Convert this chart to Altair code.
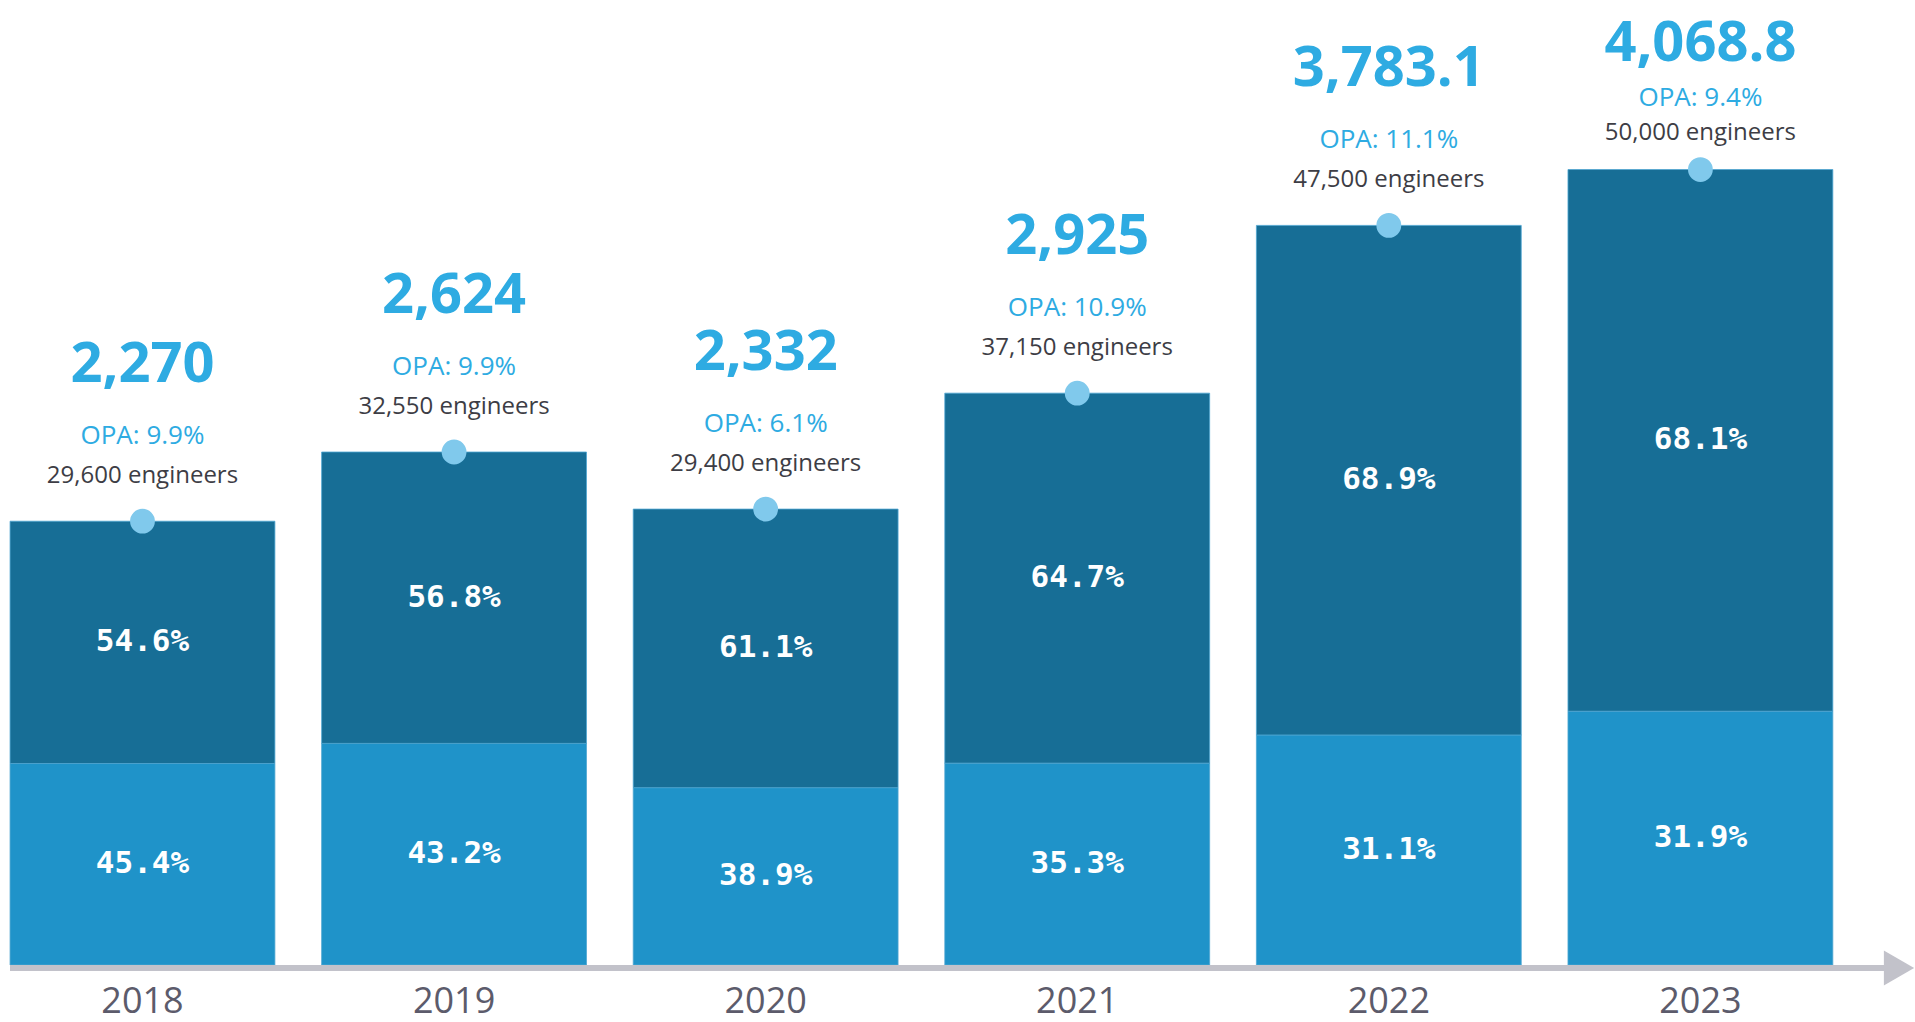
import altair as alt
import pandas as pd

years = ["2018", "2019", "2020", "2021", "2022", "2023"]
revenue = [2270, 2624, 2332, 2925, 3783.1, 4068.8]
revenue_labels = ["2,270", "2,624", "2,332", "2,925", "3,783.1", "4,068.8"]
opa = ["9.9", "9.9", "6.1", "10.9", "11.1", "9.4"]
engineers = [29600, 32550, 29400, 37150, 47500, 50000]
top_share = [54.6, 56.8, 61.1, 64.7, 68.9, 68.1]
bottom_share = [45.4, 43.2, 38.9, 35.3, 31.1, 31.9]

DARK = "#176e96"
LIGHT = "#1f93c9"
ACCENT = "#2eabe2"

# stacked segments
seg_rows = []
for y, r, ts, bs in zip(years, revenue, top_share, bottom_share):
    lower = r * bs / 100.0
    upper = r * ts / 100.0
    seg_rows.append({"year": y, "segment": "bottom", "order": 1, "value": lower,
                     "mid": lower / 2.0, "label": f"{bs:.1f}%"})
    seg_rows.append({"year": y, "segment": "top", "order": 2, "value": upper,
                     "mid": lower + upper / 2.0, "label": f"{ts:.1f}%"})
seg = pd.DataFrame(seg_rows)

tops = pd.DataFrame({
    "year": years,
    "revenue": revenue,
    "big": revenue_labels,
    "opa": [f"OPA: {o}%" for o in opa],
    "eng": [f"{e:,} engineers" for e in engineers],
})

x_enc = alt.X(
    "year:N",
    sort=years,
    scale=alt.Scale(paddingInner=0.15, paddingOuter=0.148, align=0.109),
    axis=alt.Axis(
        title=None, ticks=False, domain=False, labelAngle=0,
        labelFont="Open Sans", labelFontSize=36, labelColor="#5c5b6b",
        labelPadding=19,
    ),
)
y_scale = alt.Scale(domain=[0, 4936], nice=False, zero=True)

bars = alt.Chart(seg).mark_bar(stroke="#4ea6d2", strokeWidth=0.8).encode(
    x=x_enc,
    y=alt.Y("value:Q", stack="zero", scale=y_scale, axis=None),
    color=alt.Color("segment:N", scale=alt.Scale(domain=["bottom", "top"], range=[LIGHT, DARK]), legend=None),
    order=alt.Order("order:Q"),
)

pct = alt.Chart(seg).mark_text(
    font="DejaVu Sans Mono", fontWeight="bold", fontSize=31, color="white",
    baseline="middle", align="center",
).encode(
    x=x_enc,
    y=alt.Y("mid:Q", scale=y_scale, axis=None),
    text="label:N",
)

dots = alt.Chart(tops).mark_circle(size=616, color="#80c9ec", opacity=1).encode(
    x=x_enc,
    y=alt.Y("revenue:Q", scale=y_scale, axis=None),
)

# label anchors follow the bar tops, squeezed a little near the top edge
labels = alt.Chart(tops).transform_calculate(
    a_big="min(datum.revenue, 3913)",
    a_opa="min(datum.revenue, 4000)",
    a_eng="min(datum.revenue, 4026)",
)

big = labels.mark_text(
    font="Open Sans", fontWeight="bold", fontSize=56, color=ACCENT,
    baseline="alphabetic", align="center", dy=-139,
).encode(x=x_enc, y=alt.Y("a_big:Q", scale=y_scale, axis=None), text="big:N")

opa_t = labels.mark_text(
    font="Open Sans", fontSize=26, color=ACCENT,
    baseline="alphabetic", align="center", dy=-77,
).encode(x=x_enc, y=alt.Y("a_opa:Q", scale=y_scale, axis=None), text="opa:N")

eng_t = labels.mark_text(
    font="Open Sans", fontSize=24, color="#3d3d45",
    baseline="alphabetic", align="center", dy=-38,
).encode(x=x_enc, y=alt.Y("a_eng:Q", scale=y_scale, axis=None), text="eng:N")

decor = pd.DataFrame({"k": [0]})
axis_line = alt.Chart(decor).mark_rule(color="#c2c2ca", strokeWidth=6).encode(
    x=alt.value(10), x2=alt.value(1888), y=alt.value(968)
)
arrow = alt.Chart(decor).mark_point(
    shape="triangle-right", size=1225, filled=True, color="#c2c2ca", opacity=1
).encode(x=alt.value(1899), y=alt.value(968))

chart = alt.layer(bars, axis_line, arrow, pct, dots, big, opa_t, eng_t).properties(
    width=1915, height=965,
    autosize=alt.AutoSizeParams(type="none"),
    padding={"left": 0, "right": 0, "top": 0, "bottom": 57},
    background="white",
).configure_view(stroke=None)

chart.save("out.html", embed_options={"renderer": "svg", "actions": False})
